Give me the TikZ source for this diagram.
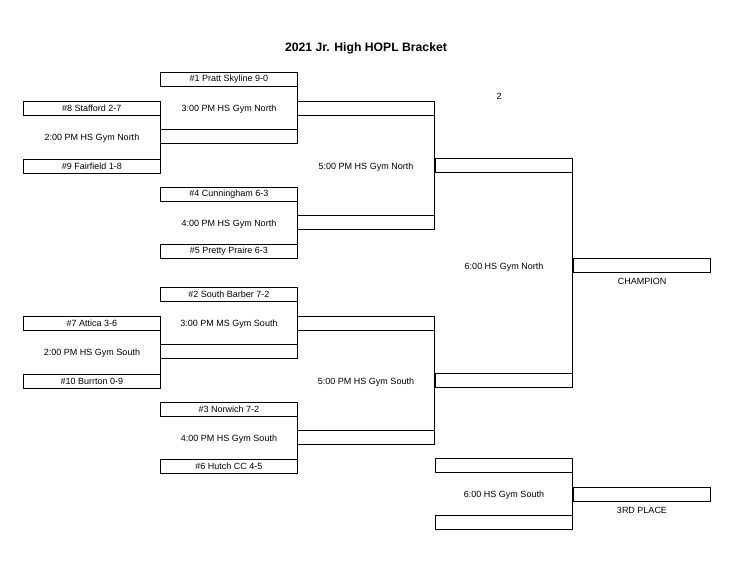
\documentclass[tikz,border=0pt]{standalone}
\usepackage{fontspec}
\setmainfont{Liberation Sans}
\usetikzlibrary{positioning}

\begin{document}
\begin{tikzpicture}[x = 1pt, y = -1pt,
        slot/.style = {draw, semithick, anchor = north west, minimum width = 137pt, minimum height = 14pt, inner sep = 0pt, font = \fontsize{9}{10}\selectfont},
        game/.style = {font = \fontsize{9}{10}\selectfont},
        link/.style = {draw, semithick}]
        \useasboundingbox (0,0) rectangle (750,588);
        \node [font = \bfseries\fontsize{12.2}{14}\selectfont] (title) at (366,48) {2021 Jr. High HOPL Bracket};

        % north half
        \node [slot] (st) at (23,101) {\#8 Stafford 2-7};
        \node [slot] (ff) at (23,159) {\#9 Fairfield 1-8};
        \node [slot] (ps) at (160,72) {\#1 Pratt Skyline 9-0};
        \node [slot] (wn1) at (160,129) {};
        \node [slot] (cu) at (160,187) {\#4 Cunningham 6-3};
        \node [slot] (pp) at (160,244) {\#5 Pretty Praire 6-3};
        \node [slot] (wn2) at (297,101) {};
        \node [slot] (wn3) at (297,215) {};
        \node [slot] (wn4) at (435,158) {};

        % south half
        \node [slot] (at) at (23,316) {\#7 Attica 3-6};
        \node [slot] (bu) at (23,374) {\#10 Burrton 0-9};
        \node [slot] (sb) at (160,287) {\#2 South Barber 7-2};
        \node [slot] (ws1) at (160,344) {};
        \node [slot] (no) at (160,402) {\#3 Norwich 7-2};
        \node [slot] (hc) at (160,459) {\#6 Hutch CC 4-5};
        \node [slot] (ws2) at (297,316) {};
        \node [slot] (ws3) at (297,430) {};
        \node [slot] (ws4) at (435,373) {};

        % finals
        \node [slot] (champ) at (573,258) {};
        \node [slot] (tp1) at (435,458) {};
        \node [slot] (tp2) at (435,515) {};
        \node [slot] (third) at (573,487) {};

        \path [link]
            (st.south east) -- (ff.north east)
            (ps.south east) -- (wn1.north east)
            (cu.south east) -- (pp.north east)
            (wn2.south east) -- (wn3.north east)
            (wn4.south east) -- (ws4.north east)
            (at.south east) -- (bu.north east)
            (sb.south east) -- (ws1.north east)
            (no.south east) -- (hc.north east)
            (ws2.south east) -- (ws3.north east)
            (tp1.south east) -- (tp2.north east);

        \node [game] (g1) at (92,138) {2:00 PM HS Gym North};
        \node [game] (g2) at (229,109) {3:00 PM HS Gym North};
        \node [game] (g3) at (229,224) {4:00 PM HS Gym North};
        \node [game] (g4) at (366,167) {5:00 PM HS Gym North};
        \node [game] (g5) at (92,353) {2:00 PM HS Gym South};
        \node [game] (g6) at (229,324) {3:00 PM MS Gym South};
        \node [game] (g7) at (229,439) {4:00 PM HS Gym South};
        \node [game] (g8) at (366,382) {5:00 PM HS Gym South};
        \node [game] (g9) at (504,267) {6:00 HS Gym North};
        \node [game] (g10) at (504,495) {6:00 HS Gym South};
        \node [game] (two) at (499,96) {2};
        \node [game] (champlbl) at (642,281) {CHAMPION};
        \node [game] (thirdlbl) at (642,510) {3RD PLACE};
    \end{tikzpicture}
\end{document}
